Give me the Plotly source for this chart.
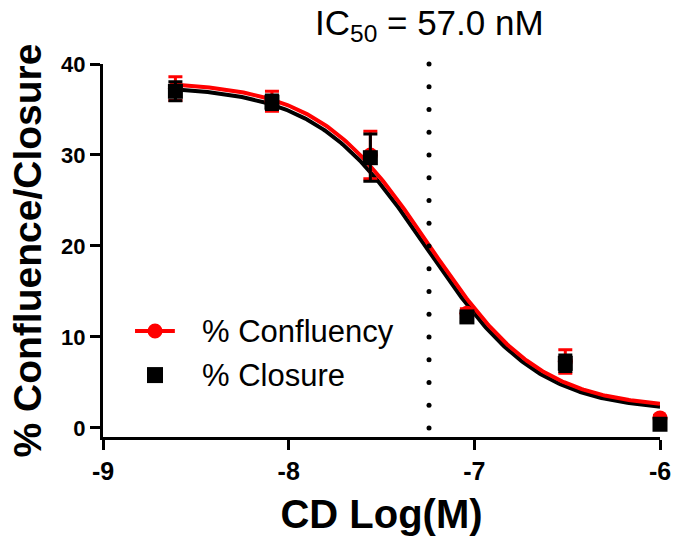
import numpy as np
import plotly.graph_objects as go

# Data (log molar concentration)
log_conc = [-8.61, -8.09, -7.56, -7.04, -6.51, -6.0]
confluency = [37.3, 35.9, 30.0, 12.6, 7.3, 1.1]
confluency_err = [1.3, 1.1, 2.6, 0.5, 1.3, 0.3]
closure = [37.0, 35.8, 29.7, 12.2, 7.1, 0.4]
closure_err = [1.05, 0.8, 2.6, 0.5, 0.9, 0.3]

x_ticks = [-9, -8, -7, -6]
x_ticklabels = ["-9", "-8", "-7", "-6"]
y_ticks = [0, 10, 20, 30, 40]
series_names = ["% Confluency", "% Closure"]

ic50_nM = 57.0
log_ic50 = np.log10(ic50_nM * 1e-9)

# fitted 4PL parameters (top, bottom, hill, logIC50)
fit_conf = dict(top=38.1, bottom=2.1, hill=1.45, logic50=log_ic50)
fit_clos = dict(top=37.6, bottom=1.8, hill=1.45, logic50=log_ic50 - 0.01)


def four_pl(x, top, bottom, hill, logic50):
    return bottom + (top - bottom) / (1 + 10 ** (hill * (x - logic50)))


xfit = np.linspace(-8.62, -6.0, 300)

FONT = "Arial, Liberation Sans, sans-serif"
RED = "#ff0000"
BLACK = "#000000"

fig = go.Figure()

# fitted curves
fig.add_trace(go.Scatter(x=xfit, y=four_pl(xfit, **fit_clos), mode="lines",
                         line=dict(color=BLACK, width=4), showlegend=False,
                         hoverinfo="skip"))
fig.add_trace(go.Scatter(x=xfit, y=four_pl(xfit, **fit_conf), mode="lines",
                         line=dict(color=RED, width=4), showlegend=False,
                         hoverinfo="skip"))

# IC50 dotted line
dot_y = np.linspace(0, 40, 17)
fig.add_trace(go.Scatter(x=[log_ic50] * len(dot_y), y=dot_y, mode="markers",
                         marker=dict(symbol="circle", size=5, color=BLACK),
                         showlegend=False, hoverinfo="skip", cliponaxis=False))

# data points
fig.add_trace(go.Scatter(x=log_conc, y=confluency, mode="markers",
                         name=series_names[0],
                         marker=dict(symbol="circle", size=15, color=RED),
                         error_y=dict(type="data", array=confluency_err,
                                      color=RED, thickness=3, width=7),
                         showlegend=False, cliponaxis=False))
fig.add_trace(go.Scatter(x=log_conc, y=closure, mode="markers",
                         name=series_names[1],
                         marker=dict(symbol="square", size=15, color=BLACK),
                         error_y=dict(type="data", array=closure_err,
                                      color=BLACK, thickness=3, width=7),
                         showlegend=False, cliponaxis=False))

# manual legend (paper coordinates)
leg_sym_x = 0.0934
leg_y = [0.284, 0.166]
fig.add_shape(type="line", xref="paper", yref="paper",
              x0=0.0575, x1=0.129, y0=leg_y[0], y1=leg_y[0],
              line=dict(color=RED, width=4))
fig.add_shape(type="circle", xref="paper", yref="paper",
              xsizemode="pixel", ysizemode="pixel",
              xanchor=leg_sym_x, yanchor=leg_y[0],
              x0=-7.5, x1=7.5, y0=-7.5, y1=7.5,
              fillcolor=RED, line=dict(color=RED, width=0))
fig.add_shape(type="rect", xref="paper", yref="paper",
              xsizemode="pixel", ysizemode="pixel",
              xanchor=leg_sym_x, yanchor=leg_y[1],
              x0=-8, x1=8, y0=-8, y1=8,
              fillcolor=BLACK, line=dict(color=BLACK, width=0))
for name, yy in zip(series_names, leg_y):
    fig.add_annotation(x=0.174, y=yy, xref="paper", yref="paper",
                       text=name, showarrow=False, xanchor="left",
                       yanchor="middle",
                       font=dict(family=FONT, size=31, color=BLACK))

fig.add_annotation(x=log_ic50, y=1, xref="x", yref="paper",
                   text="IC<sub>50</sub> = 57.0 nM", showarrow=False,
                   yanchor="bottom", yshift=15,
                   font=dict(family=FONT, size=35, color=BLACK))

axis_common = dict(showgrid=False, zeroline=False, showline=True,
                   linecolor=BLACK, linewidth=3, ticks="outside",
                   ticklen=10, tickwidth=3, tickcolor=BLACK, automargin=False)

fig.update_layout(
    width=675, height=539,
    margin=dict(l=103, r=15, t=64, b=102),
    paper_bgcolor="white", plot_bgcolor="white",
    showlegend=False,
    xaxis=dict(range=[-9, -6], tickvals=x_ticks, ticktext=x_ticklabels,
               tickfont=dict(family=FONT, size=25, color=BLACK, weight="bold"),
               title=dict(text="CD Log(M)", standoff=16,
                          font=dict(family=FONT, size=40, color=BLACK, weight="bold")),
               **axis_common),
    yaxis=dict(range=[-1, 40], tickvals=y_ticks,
               tickfont=dict(family=FONT, size=22, color=BLACK, weight="bold"),
               title=dict(text="% Confluence/Closure", standoff=8,
                          font=dict(family=FONT, size=39, color=BLACK, weight="bold")),
               **axis_common),
)

fig.write_html("out.html")
